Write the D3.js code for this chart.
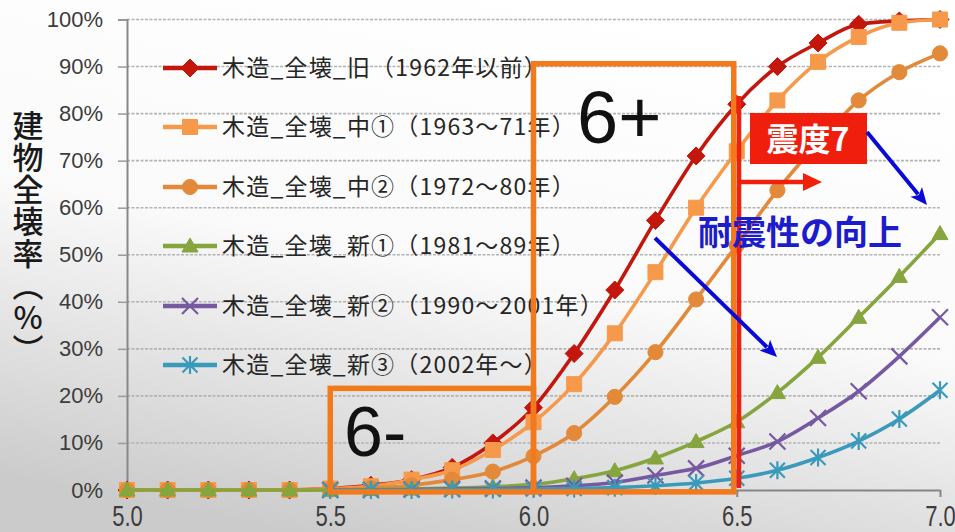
<!DOCTYPE html>
<html>
<head>
<meta charset="utf-8">
<script src="https://cdn.jsdelivr.net/npm/d3@7"></script>
<style>
  html, body { margin: 0; padding: 0; background: #fff; }
  svg { display: block; }
</style>
</head>
<body>
<svg id="chart" width="955" height="532"></svg>
<script>
// Magnitude steps on the x axis
const magnitudes = [5.0, 5.1, 5.2, 5.3, 5.4, 5.5, 5.6, 5.7, 5.8, 5.9, 6.0,
                    6.1, 6.2, 6.3, 6.4, 6.5, 6.6, 6.7, 6.8, 6.9, 7.0];

// Collapse rate (%) of wooden buildings by construction period
const oldPre1962   = [0, 0, 0, 0, 0, 0.3, 1.0, 2.2, 4.8, 10.0, 17.5, 29.0, 42.5, 57.3, 71.0, 82.0, 90.0, 95.0, 99.0, 99.7, 100];
const mid1963to71  = [0, 0, 0, 0, 0, 0.3, 0.8, 2.2, 4.2, 8.5, 14.4, 22.5, 33.3, 46.3, 60.0, 72.0, 82.8, 91.0, 96.3, 99.3, 100];
const mid1972to80  = [0, 0, 0, 0, 0, 0.1, 0.4, 1.0, 2.2, 3.9, 7.2, 12.1, 19.8, 29.3, 40.5, 52.0, 63.7, 73.8, 82.8, 88.8, 92.8];
const new1981to89  = [0, 0, 0, 0, 0, 0, 0.1, 0.2, 0.4, 0.7, 1.2, 2.4, 4.1, 6.8, 10.3, 14.5, 20.7, 28.2, 36.7, 45.4, 54.5];
const new1990to01  = [null, null, null, null, null, 0, 0, 0.1, 0.2, 0.3, 0.5, 0.9, 1.6, 3.1, 4.6, 7.3, 10.3, 15.3, 21.0, 28.4, 36.7];
const new2002on    = [null, null, null, null, null, 0, 0, 0, 0.1, 0.1, 0.2, 0.3, 0.5, 0.9, 1.5, 2.5, 4.2, 6.9, 10.4, 15.1, 21.2];

const seriesNames = [
  "木造_全壊_旧（1962年以前）",
  "木造_全壊_中①（1963～71年）",
  "木造_全壊_中②（1972～80年）",
  "木造_全壊_新①（1981～89年）",
  "木造_全壊_新②（1990～2001年）",
  "木造_全壊_新③（2002年～）"
];
const seriesValues = [oldPre1962, mid1963to71, mid1972to80, new1981to89, new1990to01, new2002on];
const seriesColors = ["#c3160c", "#f7994a", "#e3893a", "#86a53e", "#7659a0", "#3a9abb"];
const seriesMarkers = ["diamond", "square", "circle", "triangle", "x", "asterisk"];

const yTicks = [0, 10, 20, 30, 40, 50, 60, 70, 80, 90, 100];
const xTicks = [5.0, 5.5, 6.0, 6.5, 7.0];
const yTitle = "建物全壊率（%）";

const svg = d3.select("#chart");
const W = 955, H = 532;

// background wash, darker toward the bottom left
const defs = svg.append("defs");
const bg = defs.append("linearGradient").attr("id", "bg")
  .attr("x1", 0.65).attr("y1", 0).attr("x2", 0.3).attr("y2", 1);
bg.append("stop").attr("offset", "0").attr("stop-color", "#ffffff");
bg.append("stop").attr("offset", "0.5").attr("stop-color", "#fafafa");
bg.append("stop").attr("offset", "1").attr("stop-color", "#cbcbcb");
svg.append("rect").attr("width", W).attr("height", H).attr("fill", "url(#bg)");

const x = d3.scaleLinear().domain([5, 7]).range([127, 940]);
const y = d3.scaleLinear().domain([0, 100]).range([490, 19.5]);

// horizontal gridlines
svg.append("g").selectAll("line").data(yTicks.filter(d => d > 0)).join("line")
  .attr("x1", 127).attr("x2", 940)
  .attr("y1", d => y(d)).attr("y2", d => y(d))
  .attr("stroke", "#b4b4b4").attr("stroke-width", 1.6)
  .attr("stroke-dasharray", "3,1.5");

// y axis
const yAxis = svg.append("g").attr("transform", "translate(127,0)")
  .call(d3.axisLeft(y).tickValues(yTicks).tickFormat(d => d + "%").tickSize(9).tickPadding(15));
yAxis.select(".domain").attr("stroke", "#888").attr("stroke-width", 2);
yAxis.selectAll(".tick line").attr("stroke", "#9a9a9a").attr("stroke-width", 1.5);
yAxis.selectAll(".tick text")
  .attr("font-family", "'Liberation Sans', Arial, sans-serif")
  .attr("font-size", 22).attr("fill", "#3c3c3c");

// x axis
const xAxis = svg.append("g").attr("transform", "translate(0,490)")
  .call(d3.axisBottom(x).tickValues(xTicks).tickFormat(d3.format(".1f")).tickSize(7).tickSizeOuter(0));
xAxis.select(".domain").attr("stroke", "#858585").attr("stroke-width", 2);
xAxis.selectAll(".tick line").attr("stroke", "#858585").attr("stroke-width", 2);
xAxis.selectAll(".tick text")
  .attr("y", 0).attr("dy", 0)
  .attr("transform", "translate(0,35.5) scale(1,1.3)")
  .attr("font-family", "'Liberation Sans', Arial, sans-serif")
  .attr("font-size", 22).attr("fill", "#3c3c3c");

// vertical y-axis title
svg.append("text")
  .attr("x", 28).attr("y", 110)
  .attr("font-family", "'Noto Sans CJK JP', sans-serif")
  .attr("font-size", 31).attr("font-weight", 500).attr("fill", "#1a1a1a")
  .style("writing-mode", "vertical-rl")
  .style("text-orientation", "upright")
  .style("letter-spacing", "1px")
  .text(yTitle);

// marker shapes
function markerPath(kind) {
  switch (kind) {
    case "diamond": return "M0,-9L9,0L0,9L-9,0Z";
    case "square": return "M-7.5,-7.5H7.5V7.5H-7.5Z";
    case "circle": return d3.symbol(d3.symbolCircle, 180)();
    case "triangle": return "M0,-8L8,6L-8,6Z";
    case "x": return "M-8,-8L8,8M-8,8L8,-8";
    case "asterisk": return "M-7.5,-7.5L7.5,7.5M-7.5,7.5L7.5,-7.5M0,-9V9";
  }
}
function drawMarker(g, kind, color) {
  const stroked = kind === "x" || kind === "asterisk";
  g.append("path").attr("d", markerPath(kind))
    .attr("fill", stroked ? "none" : color)
    .attr("stroke", color)
    .attr("stroke-width", stroked ? 2.2 : 1);
}

// series lines and markers
const line = d3.line()
  .defined(d => d.v !== null)
  .x(d => x(d.m)).y(d => y(d.v))
  .curve(d3.curveMonotoneX);

const plot = svg.append("g");
seriesValues.forEach((vals, i) => {
  const pts = magnitudes.map((m, j) => ({ m, v: vals[j] }));
  const g = plot.append("g");
  g.append("path").datum(pts).attr("d", line)
    .attr("fill", "none").attr("stroke", seriesColors[i]).attr("stroke-width", 3.6)
    .attr("stroke-linejoin", "round");
  pts.filter(p => p.v !== null).forEach(p => {
    const mg = g.append("g").attr("transform", `translate(${x(p.m)},${y(p.v)})`);
    drawMarker(mg, seriesMarkers[i], seriesColors[i]);
  });
});

// legend
const legendY = [68, 127, 187, 246, 306, 365];
const legend = svg.append("g");
seriesNames.forEach((name, i) => {
  const g = legend.append("g").attr("transform", `translate(0,${legendY[i]})`);
  g.append("line").attr("x1", 163).attr("x2", 217).attr("y1", 0).attr("y2", 0)
    .attr("stroke", seriesColors[i]).attr("stroke-width", 4.5);
  const mg = g.append("g").attr("transform", "translate(190,0)");
  drawMarker(mg, seriesMarkers[i], seriesColors[i]);
  g.append("text").attr("x", 222).attr("y", 0).attr("dy", "0.36em")
    .attr("font-family", "'Noto Sans CJK JP', sans-serif")
    .attr("font-size", 23).attr("fill", "#262626")
    .style("letter-spacing", "1.2px")
    .text(name);
});

// intensity boxes
const ann = svg.append("g");
const boxColor = "#f27a1c";
ann.append("rect")
  .attr("x", x(5.5)).attr("y", y(21.6))
  .attr("width", x(6.0) - x(5.5)).attr("height", y(-0.4) - y(21.6))
  .attr("fill", "none").attr("stroke", boxColor).attr("stroke-width", 5.5);
ann.append("rect")
  .attr("x", x(6.0)).attr("y", y(90.6))
  .attr("width", x(6.5) - x(6.0) - 3).attr("height", y(-0.4) - y(90.6))
  .attr("fill", "none").attr("stroke", boxColor).attr("stroke-width", 5.5);

ann.append("text").attr("x", 344).attr("y", 456)
  .attr("font-family", "'Liberation Sans', Arial, sans-serif")
  .attr("font-size", 70).attr("fill", "#111").text("6-");
ann.append("text").attr("x", 577).attr("y", 143)
  .attr("font-family", "'Liberation Sans', Arial, sans-serif")
  .attr("font-size", 74).attr("fill", "#111").text("6+");

// intensity 7 marker: red edge with arrow
const red = "#f0200c";
ann.append("line").attr("x1", 739).attr("x2", 739).attr("y1", 96).attr("y2", 488)
  .attr("stroke", red).attr("stroke-width", 4.5);
ann.append("line").attr("x1", 739).attr("x2", 808).attr("y1", 182).attr("y2", 182)
  .attr("stroke", red).attr("stroke-width", 4.5);
ann.append("path").attr("d", "M822,182L803,173L803,191Z").attr("fill", red);

ann.append("rect").attr("x", 750).attr("y", 113).attr("width", 117).attr("height", 51)
  .attr("fill", "#f01e0c");
ann.append("text").attr("x", 808).attr("y", 139).attr("dy", "0.36em")
  .attr("text-anchor", "middle")
  .attr("font-family", "'Noto Sans CJK JP', sans-serif")
  .attr("font-size", 32).attr("font-weight", 700).attr("fill", "#fff")
  .text("震度7");

// seismic-resistance arrows
const blue = "#0a0ad8";
function arrow(x1, y1, x2, y2) {
  const a = Math.atan2(y2 - y1, x2 - x1);
  const len = 17, hw = 7.5;
  const bx = x2 - len * Math.cos(a), by = y2 - len * Math.sin(a);
  ann.append("line").attr("x1", x1).attr("y1", y1)
    .attr("x2", bx + 3 * Math.cos(a)).attr("y2", by + 3 * Math.sin(a))
    .attr("stroke", blue).attr("stroke-width", 4);
  ann.append("path")
    .attr("d", `M${x2},${y2}L${bx - hw * Math.sin(a)},${by + hw * Math.cos(a)}L${bx + 4 * Math.cos(a)},${by + 4 * Math.sin(a)}L${bx + hw * Math.sin(a)},${by - hw * Math.cos(a)}Z`)
    .attr("fill", blue);
}
arrow(867, 132, 927, 205);
arrow(655, 238, 777, 357);

ann.append("text").attr("x", 698).attr("y", 233).attr("dy", "0.36em")
  .attr("font-family", "'Noto Sans CJK JP', sans-serif")
  .attr("font-size", 34).attr("font-weight", 700).attr("fill", "#1c1ccc")
  .text("耐震性の向上");
</script>
</body>
</html>
